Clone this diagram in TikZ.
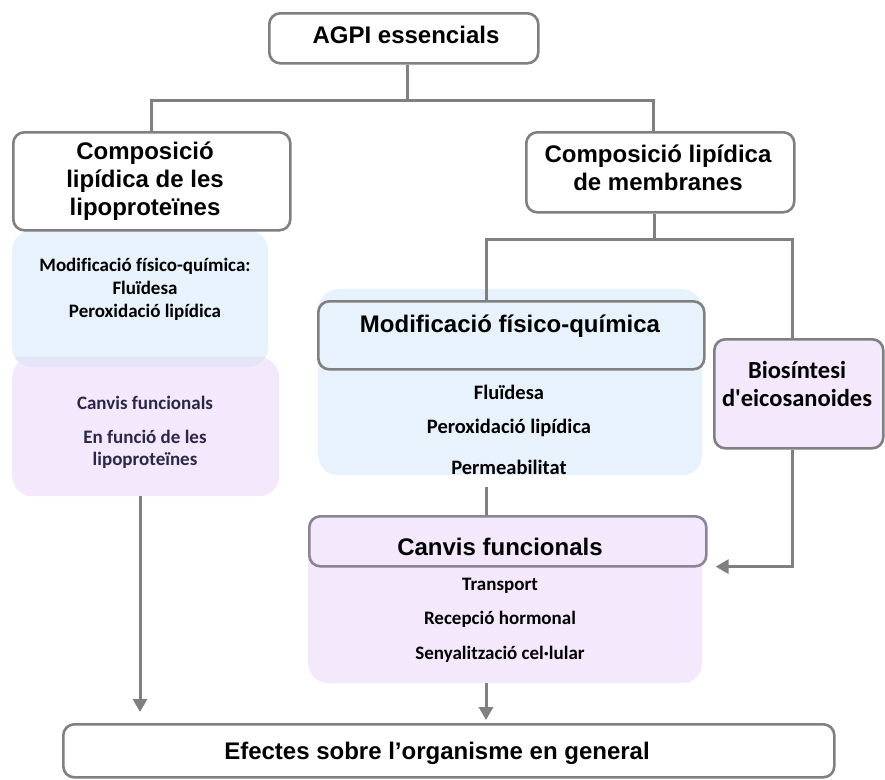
\documentclass[tikz,border=0pt]{standalone}
\usepackage{fontspec}
\usetikzlibrary{arrows.meta}
\newfontfamily\arialfont{Liberation Sans}
\newfontfamily\calfont{Carlito}[Ligatures=NoCommon]
\definecolor{lineGray}{RGB}{128,128,128}
\definecolor{hdrGray}{RGB}{138,132,148}
\definecolor{blueBg}{RGB}{232,242,252}
\definecolor{pinkBg}{RGB}{244,232,252}
\definecolor{mixBg}{RGB}{230,228,248}
\definecolor{inkBlue}{RGB}{42,40,70}
\tikzset{
  box/.style={rectangle, draw=lineGray, line width=2.6pt, rounded corners=11pt,
    fill=white, anchor=north west, inner sep=0pt},
  panel/.style={rectangle, draw=none, rounded corners=20pt, anchor=north west, inner sep=0pt},
  conn/.style={draw=lineGray, line width=3pt},
  arr/.style={conn, -{Triangle[length=13pt,width=14pt]}},
  title/.style={font=\arialfont\bfseries\fontsize{24}{28}\selectfont, align=center, inner sep=0pt},
  item/.style={font=\calfont\bfseries\fontsize{19}{23}\selectfont, align=center, inner sep=0pt},
  itemL/.style={font=\calfont\bfseries\fontsize{20.5}{24}\selectfont, align=center, inner sep=0pt},
}
\begin{document}
\begin{tikzpicture}[x=1pt,y=-1pt]
\useasboundingbox (0,0) rectangle (885,779);

% background panels
\node[panel, fill=blueBg, minimum width=256pt, minimum height=137pt] (lipoblue) at (12,230) {};
\node[panel, fill=pinkBg, minimum width=267pt, minimum height=139pt] (lipopink) at (12,357) {};
\begin{scope}
  \clip[rounded corners=20pt] (12,230) rectangle (268,367);
  \fill[mixBg] (12,357) rectangle (279,496);
\end{scope}
\node[panel, fill=blueBg, minimum width=384pt, minimum height=186pt] (modbg) at (318,289) {};
\node[panel, fill=pinkBg, minimum width=394pt, minimum height=168pt] (canvbg) at (308,515) {};

% framed boxes
\node[box, minimum width=269pt, minimum height=50pt] (agpi) at (268,12) {};
\node[box, minimum width=277pt, minimum height=98pt] (lipo) at (12,131) {};
\node[box, minimum width=268pt, minimum height=80pt] (memb) at (525,131) {};
\node[box, fill=blueBg, minimum width=386pt, minimum height=68pt] (modhdr) at (317,300) {};
\node[box, fill=pinkBg, minimum width=169pt, minimum height=109pt] (bio) at (713,338) {};
\node[box, fill=pinkBg, draw=hdrGray, minimum width=397pt, minimum height=50pt] (canvhdr) at (308,515) {};
\node[box, minimum width=771pt, minimum height=53pt] (efectes) at (62,723) {};

% junction points of the connectors
\coordinate (top) at (407,100);
\coordinate (jA) at (150,100);
\coordinate (jB) at (653,100);
\coordinate (jM) at (654,239);
\coordinate (jC) at (486,239);
\coordinate (jD) at (792,239);
\coordinate (jL) at (140,0);

% connectors
\draw[conn] (agpi.south -| top) -- (top);
\draw[conn] (lipo.north) -- (lipo.north |- jA) -- (jB) -- (memb.north -| jB);
\draw[conn] (memb.south -| jM) -- (jM);
\draw[conn] (modhdr.north -| jC) -- (jC) -- (jD) -- (bio.north -| jD);
\draw[conn] ([yshift=-12pt]modbg.south -| jC) -- (canvhdr.north -| jC);
\draw[arr] (canvbg.south -| jC) -- ([yshift=3pt]efectes.north -| jC);
\draw[arr] (lipopink.south -| jL) -- ([yshift=11pt]efectes.north -| jL);
\draw[arr] (bio.south -| jD) |- ([xshift=8pt,yshift=1pt]canvhdr.south east);

% texts
\node[title] (tagpi) at (406,35) {AGPI essencials};
\node[title] (tlipo) at (145,181) {Composició\\lipídica de les\\lipoproteïnes};
\node[title] (tmemb) at (658,167.5) {Composició lipídica\\de membranes};
\node[title] (tmod) at (510,326) {Modificació físico-química};
\node[title] (tcanv) at (500,547) {Canvis funcionals};
\node[title] (tef) at (437,753) {Efectes sobre l’organisme en general};

\node[item] (tlb) at (145,289)
  {Modificació físico-química:\\Fluïdesa\\Peroxidació lipídica};
\node[item, text=inkBlue] (tlp1) at (145,403) {Canvis funcionals};
\node[item, text=inkBlue, font=\calfont\bfseries\fontsize{19}{22}\selectfont] (tlp2) at (145,449)
  {En funció de les\\lipoproteïnes};

\node[itemL] (tm1) at (509,392) {Fluïdesa};
\node[itemL] (tm2) at (509,428) {Peroxidació lipídica};
\node[itemL] (tm3) at (509,467) {Permeabilitat};

\node[item, font=\calfont\bfseries\fontsize{24.5}{28}\selectfont] (tbio) at (797,384)
  {Biosíntesi\\d'eicosanoides};

\node[item] (tc1) at (500,586) {Transport};
\node[item] (tc2) at (500,619) {Recepció hormonal};
\node[item] (tc3) at (500,654) {Senyalització cel·lular};
\end{tikzpicture}
\end{document}
